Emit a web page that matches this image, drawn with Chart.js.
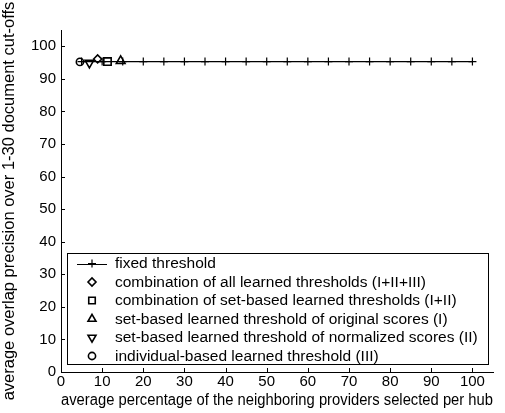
<!DOCTYPE html>
<html>
<head>
<meta charset="utf-8">
<script src="https://cdn.jsdelivr.net/npm/chart.js@4/dist/chart.umd.min.js"></script>
<style>
  html, body { margin: 0; padding: 0; background: #fff; }
  #wrap { width: 505px; height: 413px; }
</style>
</head>
<body>
<div id="wrap"><canvas id="c" width="505" height="413"></canvas></div>
<script>
// Fixed-threshold curve: average percentage of providers selected vs. precision
const fixedX = [5, 10, 15, 20, 25, 30, 35, 40, 45, 50, 55, 60, 65, 70, 75, 80, 85, 90, 95, 100];
const fixedY = [95.3, 95.3, 95.3, 95.3, 95.3, 95.3, 95.3, 95.3, 95.3, 95.3, 95.3, 95.3, 95.3, 95.3, 95.3, 95.3, 95.3, 95.3, 95.3, 95.3];

// Learned thresholds: one operating point each [x, y]
const combAllPoint = [8.9, 96.1];     // (I+II+III)
const combSetPoint = [11.3, 95.3];    // (I+II)
const setOrigPoint = [14.5, 95.5];    // (I)
const setNormPoint = [6.9, 94.9];     // (II)
const indivPoint = [4.6, 95.2];       // (III)

const seriesLabels = [
  'fixed threshold',
  'combination of all learned thresholds (I+II+III)',
  'combination of set-based learned thresholds (I+II)',
  'set-based learned threshold of original scores (I)',
  'set-based learned threshold of normalized scores (II)',
  'individual-based learned threshold (III)'
];

const xTicks = [0, 10, 20, 30, 40, 50, 60, 70, 80, 90, 100];
const yTicks = [0, 10, 20, 30, 40, 50, 60, 70, 80, 90, 100];

const FONT = "Arial, 'Liberation Sans', sans-serif";

function pt(p) { return [{ x: p[0], y: p[1] }]; }

const markerBase = {
  showLine: false,
  borderColor: '#000',
  backgroundColor: 'rgba(0,0,0,0)',
  pointBorderWidth: 1.6,
  pointBackgroundColor: 'rgba(0,0,0,0)',
  pointBorderColor: '#000'
};

const datasets = [
  {
    label: seriesLabels[0],
    data: fixedX.map((x, i) => ({ x: x, y: fixedY[i] })),
    showLine: true,
    borderColor: '#000',
    borderWidth: 1.2,
    pointStyle: 'cross',
    pointRadius: 4,
    pointBorderWidth: 1.2,
    pointBorderColor: '#000',
    order: 6
  },
  Object.assign({}, markerBase, { label: seriesLabels[1], data: pt(combAllPoint), pointStyle: 'rectRot', pointRadius: 4, order: 1 }),
  Object.assign({}, markerBase, { label: seriesLabels[2], data: pt(combSetPoint), pointStyle: 'rect', pointRadius: 5.2, order: 2 }),
  Object.assign({}, markerBase, { label: seriesLabels[3], data: pt(setOrigPoint), pointStyle: 'triangle', pointRadius: 5, order: 3 }),
  Object.assign({}, markerBase, { label: seriesLabels[4], data: pt(setNormPoint), pointStyle: 'triangle', pointRotation: 180, pointRadius: 5, order: 4 }),
  Object.assign({}, markerBase, { label: seriesLabels[5], data: pt(indivPoint), pointStyle: 'circle', pointRadius: 3.6, order: 5 })
];

// Inward tick marks on the left and bottom axes
const inwardTicks = {
  id: 'inwardTicks',
  afterDatasetsDraw(chart) {
    const ctx = chart.ctx;
    const xs = chart.scales.x, ys = chart.scales.y;
    const len = 4;
    ctx.save();
    ctx.strokeStyle = '#000';
    ctx.lineWidth = 1;
    ctx.beginPath();
    xTicks.forEach(v => {
      const px = Math.round(xs.getPixelForValue(v)) + 0.5;
      const py = ys.getPixelForValue(0);
      ctx.moveTo(px, py);
      ctx.lineTo(px, py - len);
    });
    yTicks.forEach(v => {
      const py = Math.round(ys.getPixelForValue(v)) + 0.5;
      const px = xs.getPixelForValue(0);
      ctx.moveTo(px, py);
      ctx.lineTo(px + len, py);
    });
    ctx.stroke();
    ctx.restore();
  }
};

// Boxed legend inside the lower part of the plot
const boxLegend = {
  id: 'boxLegend',
  afterDraw(chart) {
    const ctx = chart.ctx;
    const area = chart.chartArea;
    const left = area.left + 6, right = area.right - 5;
    const bottom = area.bottom - 8;
    const top = bottom - 111;
    const rowH = 18.5;
    ctx.save();
    ctx.fillStyle = '#fff';
    ctx.fillRect(left, top, right - left, bottom - top);
    ctx.strokeStyle = '#000';
    ctx.lineWidth = 1;
    ctx.strokeRect(Math.round(left) + 0.5, Math.round(top) + 0.5, Math.round(right - left), Math.round(bottom - top));
    ctx.font = '15.5px ' + FONT;
    ctx.textBaseline = 'middle';
    ctx.textAlign = 'left';
    const symX = left + 25;
    const textX = left + 48;
    chart.data.datasets.forEach((ds, i) => {
      const cy = top + 10.5 + rowH * i;
      ctx.strokeStyle = '#000';
      if (ds.showLine) {
        ctx.lineWidth = 1;
        ctx.beginPath();
        ctx.moveTo(symX - 15, Math.round(cy) + 0.5);
        ctx.lineTo(symX + 15, Math.round(cy) + 0.5);
        ctx.stroke();
      }
      ctx.lineWidth = ds.pointBorderWidth;
      ctx.fillStyle = 'rgba(0,0,0,0)';
      Chart.helpers.drawPoint(ctx, {
        pointStyle: ds.pointStyle,
        rotation: ds.pointRotation || 0,
        radius: ds.pointStyle === 'rect' ? 4.6 : (ds.pointStyle === 'triangle' ? 4.6 : ds.pointRadius),
        borderWidth: ds.pointBorderWidth
      }, symX, cy);
      ctx.fillStyle = '#000';
      ctx.fillText(ds.label, textX, cy + 0.5);
    });
    ctx.restore();
  }
};

new Chart(document.getElementById('c'), {
  type: 'scatter',
  data: { datasets: datasets },
  plugins: [inwardTicks, boxLegend],
  options: {
    responsive: false,
    animation: false,
    devicePixelRatio: 1,
    layout: { padding: { left: 0, right: 12, top: 30, bottom: 0 } },
    plugins: {
      legend: { display: false },
      tooltip: { enabled: false }
    },
    scales: {
      x: {
        type: 'linear',
        min: 0,
        max: 105,
        afterBuildTicks: s => { s.ticks = xTicks.map(v => ({ value: v })); },
        afterFit: s => { s.height = 41; },
        grid: { display: false, drawTicks: false },
        border: { display: true, color: '#000', width: 1 },
        ticks: { color: '#000', font: { family: FONT, size: 15 }, padding: 1, maxRotation: 0, autoSkip: false },
        title: {
          display: true,
          text: 'average percentage of the neighboring providers selected per hub',
          color: '#000',
          font: { family: FONT, size: 16 },
          padding: { top: 0, bottom: 2.5 }
        }
      },
      y: {
        type: 'linear',
        min: 0,
        max: 105,
        afterBuildTicks: s => { s.ticks = yTicks.map(v => ({ value: v })); },
        afterFit: s => { s.width = 61; },
        grid: { display: false, drawTicks: false },
        border: { display: true, color: '#000', width: 1 },
        ticks: { color: '#000', font: { family: FONT, size: 15 }, padding: 5, autoSkip: false },
        title: {
          display: true,
          text: 'average overlap precision over 1-30 document cut-offs',
          color: '#000',
          font: { family: FONT, size: 16.5 },
          padding: { top: 0, bottom: 3.5 }
        }
      }
    }
  }
});
</script>
</body>
</html>
